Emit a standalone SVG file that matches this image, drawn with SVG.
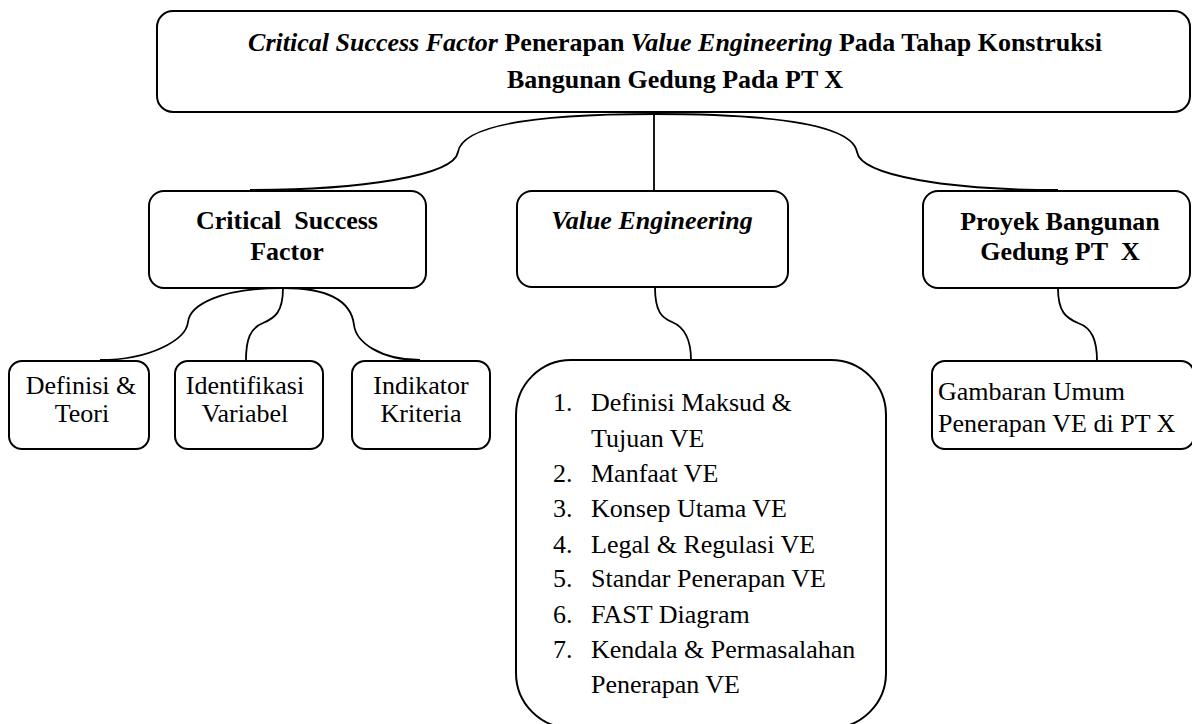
<svg xmlns="http://www.w3.org/2000/svg" width="1192" height="724" viewBox="0 0 1192 724">
  <rect width="1192" height="724" fill="#ffffff"/>

  <!-- connectors -->
  <g id="connectors" fill="none" stroke="#000000" stroke-width="1.8">
    <line x1="654" y1="112" x2="654" y2="190"/>
    <path d="M 654,114 C 520,114 462,128 458,152 C 454,176 360,190 250,190"/>
    <path d="M 654,114 C 790,114 853,128 857,152 C 861,176 950,190 1058,190"/>
    <path d="M 283,288 C 220,288 190,305 188,322 C 186,340 150,360 100,360"/>
    <path d="M 283,288 C 283,312 275,318 263,323 C 250,328 246,340 246,360"/>
    <path d="M 283,288 C 340,288 352,308 354,325 C 356,342 380,360 420,360"/>
    <path d="M 655,287 C 655,312 662,318 672,322 C 684,327 691,338 691,360"/>
    <path d="M 1058,288 C 1058,312 1066,318 1078,323 C 1092,328 1097,340 1097,361"/>
  </g>

  <!-- node frames -->
  <g fill="#ffffff" stroke="#000000" stroke-width="2">
    <rect id="root-box" x="157" y="11" width="1033" height="101" rx="16"/>
    <rect id="csf-box" x="149" y="191" width="277" height="97" rx="15"/>
    <rect id="ve-box" x="517" y="191" width="271" height="96" rx="15"/>
    <rect id="proyek-box" x="923" y="191" width="267" height="97" rx="15"/>
    <rect id="definisi-box" x="9" y="361" width="140" height="88" rx="13"/>
    <rect id="identifikasi-box" x="175" y="361" width="148" height="88" rx="13"/>
    <rect id="indikator-box" x="352" y="361" width="138" height="88" rx="13"/>
    <rect id="ve-topics-box" x="516" y="360" width="370" height="368" rx="55"/>
    <rect id="gambaran-box" x="932" y="361" width="262" height="88" rx="13"/>
  </g>

  <!-- node labels -->
  <g font-size="26" fill="#000000">
    <g id="root" font-weight="bold" text-anchor="middle">
      <text font-family="Liberation Serif" x="675" y="51"><tspan font-style="italic">Critical Success Factor</tspan> Penerapan <tspan font-style="italic">Value Engineering</tspan> Pada Tahap Konstruksi</text>
      <text font-family="Liberation Serif" x="675" y="88">Bangunan Gedung Pada PT X</text>
    </g>
    <g id="csf" font-weight="bold" text-anchor="middle">
      <text font-family="Liberation Serif" x="287" y="229">Critical&#160; Success</text>
      <text font-family="Liberation Serif" x="287" y="260">Factor</text>
    </g>
    <g id="ve" font-weight="bold" font-style="italic" text-anchor="middle">
      <text font-family="Liberation Serif" x="652" y="229">Value Engineering</text>
    </g>
    <g id="proyek" font-weight="bold" text-anchor="middle">
      <text font-family="Liberation Serif" x="1060" y="230">Proyek Bangunan</text>
      <text font-family="Liberation Serif" x="1060" y="260">Gedung PT&#160; X</text>
    </g>
    <g id="definisi" text-anchor="middle">
      <text font-family="Liberation Serif" x="81" y="394">Definisi &amp;</text>
      <text font-family="Liberation Serif" x="82" y="422">Teori</text>
    </g>
    <g id="identifikasi" text-anchor="middle">
      <text font-family="Liberation Serif" x="245" y="394">Identifikasi</text>
      <text font-family="Liberation Serif" x="245" y="422">Variabel</text>
    </g>
    <g id="indikator" text-anchor="middle">
      <text font-family="Liberation Serif" x="421" y="394">Indikator</text>
      <text font-family="Liberation Serif" x="421" y="422">Kriteria</text>
    </g>
    <g id="ve-topics">
      <text font-family="Liberation Serif" x="553" y="411">1.</text><text font-family="Liberation Serif" x="591" y="411">Definisi Maksud &amp;</text>
      <text font-family="Liberation Serif" x="591" y="447">Tujuan VE</text>
      <text font-family="Liberation Serif" x="553" y="482">2.</text><text font-family="Liberation Serif" x="591" y="482">Manfaat VE</text>
      <text font-family="Liberation Serif" x="553" y="517">3.</text><text font-family="Liberation Serif" x="591" y="517">Konsep Utama VE</text>
      <text font-family="Liberation Serif" x="553" y="553">4.</text><text font-family="Liberation Serif" x="591" y="553">Legal &amp; Regulasi VE</text>
      <text font-family="Liberation Serif" x="553" y="587">5.</text><text font-family="Liberation Serif" x="591" y="587">Standar Penerapan VE</text>
      <text font-family="Liberation Serif" x="553" y="623">6.</text><text font-family="Liberation Serif" x="591" y="623">FAST Diagram</text>
      <text font-family="Liberation Serif" x="553" y="658">7.</text><text font-family="Liberation Serif" x="591" y="658">Kendala &amp; Permasalahan</text>
      <text font-family="Liberation Serif" x="591" y="693">Penerapan VE</text>
    </g>
    <g id="gambaran">
      <text font-family="Liberation Serif" x="938" y="400">Gambaran Umum</text>
      <text font-family="Liberation Serif" x="938" y="432">Penerapan VE di PT X</text>
    </g>
  </g>
</svg>
